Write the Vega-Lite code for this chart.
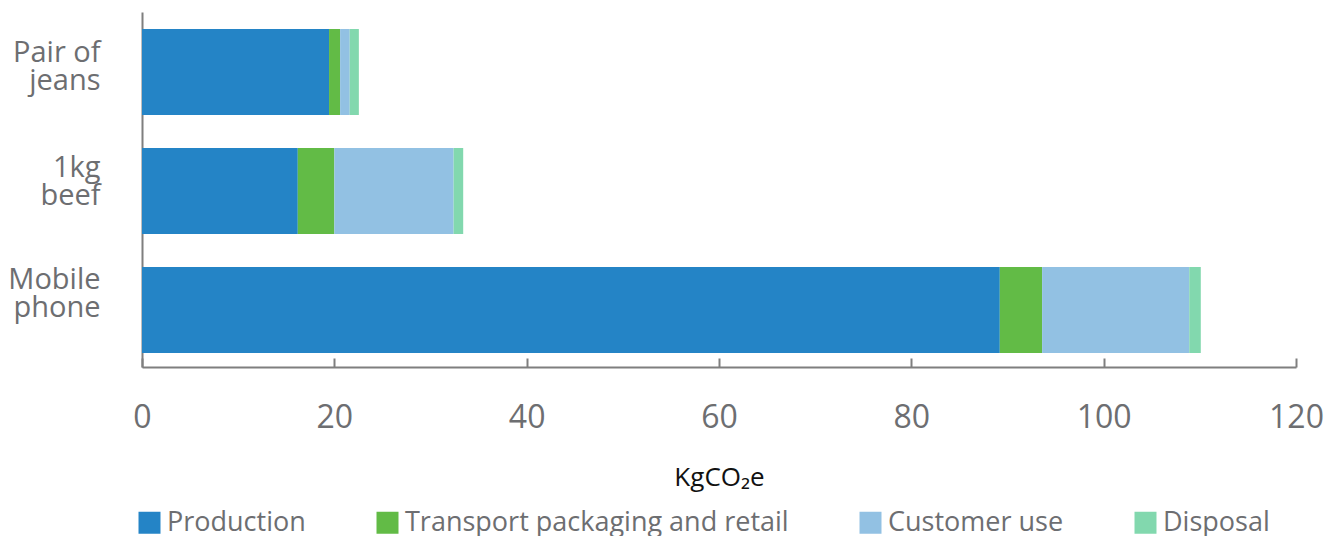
{
  "$schema": "https://vega.github.io/schema/vega-lite/v6.json",
  "width": 1154,
  "height": 355,
  "padding": {"left": 142, "top": 12, "right": 40, "bottom": 169},
  "autosize": {"type": "none"},
  "background": "white",
  "data": {
    "values": [
      {"item": "Pair of|jeans", "category": "Production", "order": 1, "value": 19.45},
      {"item": "Pair of|jeans", "category": "Transport packaging and retail", "order": 2, "value": 1.15},
      {"item": "Pair of|jeans", "category": "Customer use", "order": 3, "value": 1.0},
      {"item": "Pair of|jeans", "category": "Disposal", "order": 4, "value": 0.95},
      {"item": "1kg|beef", "category": "Production", "order": 1, "value": 16.2},
      {"item": "1kg|beef", "category": "Transport packaging and retail", "order": 2, "value": 3.8},
      {"item": "1kg|beef", "category": "Customer use", "order": 3, "value": 12.4},
      {"item": "1kg|beef", "category": "Disposal", "order": 4, "value": 1.0},
      {"item": "Mobile|phone", "category": "Production", "order": 1, "value": 89.2},
      {"item": "Mobile|phone", "category": "Transport packaging and retail", "order": 2, "value": 4.4},
      {"item": "Mobile|phone", "category": "Customer use", "order": 3, "value": 15.3},
      {"item": "Mobile|phone", "category": "Disposal", "order": 4, "value": 1.2}
    ]
  },
  "mark": {"type": "bar"},
  "encoding": {
    "y": {
      "field": "item",
      "type": "nominal",
      "sort": ["Pair of|jeans", "1kg|beef", "Mobile|phone"],
      "scale": {"paddingInner": 0.277, "paddingOuter": 0.13, "align": 0.55},
      "axis": {
        "title": null,
        "ticks": false,
        "domainColor": "#7f7f7f",
        "domainWidth": 2,
        "labelExpr": "split(datum.value, '|')",
        "labelFont": "Open Sans",
        "labelFontSize": 29,
        "labelLineHeight": 28,
        "labelColor": "#6d6e71",
        "labelPadding": 42,
        "labelOffset": {"expr": "datum.value == 'Pair of|jeans' ? -19 : (datum.value == '1kg|beef' ? -23 : -30)"}
      }
    },
    "x": {
      "field": "value",
      "type": "quantitative",
      "aggregate": "sum",
      "stack": "zero",
      "scale": {"domain": [0, 120], "nice": false},
      "axis": {
        "values": [0, 20, 40, 60, 80, 100, 120],
        "title": "KgCO₂e",
        "titleFont": "Open Sans",
        "titleFontSize": 26,
        "titleFontWeight": "normal",
        "titleColor": "#111111",
        "titlePadding": 31,
        "grid": false,
        "domainColor": "#7f7f7f",
        "domainWidth": 2,
        "tickColor": "#7f7f7f",
        "tickWidth": 2,
        "tickSize": -9,
        "labelFlush": false,
        "labelFont": "Open Sans",
        "labelFontSize": 32,
        "labelColor": "#6d6e71",
        "labelPadding": 44
      }
    },
    "color": {
      "field": "category",
      "type": "nominal",
      "scale": {
        "domain": ["Production", "Transport packaging and retail", "Customer use", "Disposal"],
        "range": ["#2484c6", "#62bb46", "#92c1e3", "#82d8ae"]
      },
      "legend": {
        "title": null,
        "orient": "none",
        "direction": "horizontal",
        "legendX": -6,
        "legendY": 497,
        "symbolType": "square",
        "symbolSize": 484,
        "symbolStrokeWidth": 0,
        "symbolOpacity": 1,
        "labelFont": "Open Sans",
        "labelFontSize": 27,
        "labelColor": "#6d6e71",
        "labelOffset": 4,
        "columnPadding": 68,
        "labelLimit": 450
      }
    },
    "order": {"field": "order", "type": "quantitative"}
  },
  "config": {"view": {"stroke": null}}
}
